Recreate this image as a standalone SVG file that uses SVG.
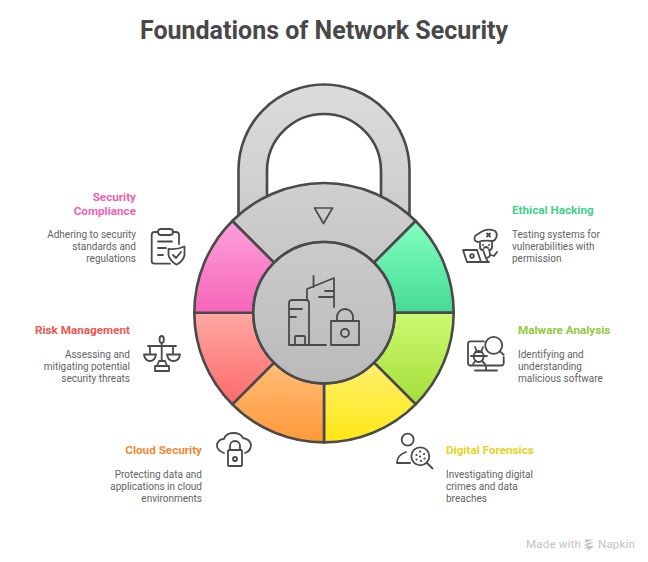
<svg xmlns="http://www.w3.org/2000/svg" width="648" height="562" viewBox="0 0 648 562">
<style>
text{font-family:Roboto,"Liberation Sans",sans-serif}
.title{font-size:25px;font-weight:700;fill:#484848;text-anchor:middle}
.h{font-size:11.700px;font-weight:700}
.d{font-size:10px;fill:#636363}
.e{text-anchor:end}
.s{stroke:#4a4a4a;stroke-width:2.6;stroke-linejoin:round}
.i{fill:none;stroke:#4a4a4a;stroke-width:1.8;stroke-linecap:round;stroke-linejoin:round}
</style>
<defs>
<linearGradient id="gs" x1="0" y1="0" x2="0" y2="1"><stop offset="0" stop-color="#dcdcdc"/><stop offset="1" stop-color="#cccccc"/></linearGradient>
<linearGradient id="gt" x1="0" y1="0" x2="0" y2="1"><stop offset="0" stop-color="#d0d0d0"/><stop offset="1" stop-color="#c6c6c6"/></linearGradient>
<linearGradient id="gc" x1="0" y1="0" x2="0" y2="1"><stop offset="0" stop-color="#cbcbcb"/><stop offset="1" stop-color="#bababa"/></linearGradient>
<linearGradient id="p" x1="0" y1="0" x2="0" y2="1"><stop offset="0" stop-color="#ffa0dd"/><stop offset="1" stop-color="#f565b8"/></linearGradient>
<linearGradient id="g" x1="0" y1="0" x2="0" y2="1"><stop offset="0" stop-color="#82ffc0"/><stop offset="1" stop-color="#45db94"/></linearGradient>
<linearGradient id="l" x1="0" y1="0" x2="0" y2="1"><stop offset="0" stop-color="#cdf971"/><stop offset="1" stop-color="#a5de3a"/></linearGradient>
<linearGradient id="y" x1="0" y1="0" x2="0" y2="1"><stop offset="0" stop-color="#fff06e"/><stop offset="1" stop-color="#ffe714"/></linearGradient>
<linearGradient id="o" x1="0" y1="0" x2="0" y2="1"><stop offset="0" stop-color="#ffbd78"/><stop offset="1" stop-color="#ff9838"/></linearGradient>
<linearGradient id="r" x1="0" y1="0" x2="0" y2="1"><stop offset="0" stop-color="#ffa8a3"/><stop offset="1" stop-color="#ff6a6a"/></linearGradient>
</defs>
<text class="title" x="324" y="39">Foundations of Network Security</text>
<g id="lock">
<path class="s" fill="url(#gs)" d="M238.500 217V170A85.500 85.500 0 0 1 409.500 170V217L381 197V171A57 57 0 0 0 267 171V197Z"/>
<path class="s" fill="url(#gt)" d="M232.300 221A129.700 129.700 0 0 1 415.700 221L374 262.700A70.700 70.700 0 0 0 274 262.700Z"/>
<path class="s" fill="url(#g)" d="M415.700 221A129.700 129.700 0 0 1 453.700 312.700H394.700A70.700 70.700 0 0 0 374 262.700Z"/>
<path class="s" fill="url(#l)" d="M453.700 312.700A129.700 129.700 0 0 1 415.700 404.400L374 362.700A70.700 70.700 0 0 0 394.700 312.700Z"/>
<path class="s" fill="url(#y)" d="M415.700 404.400A129.700 129.700 0 0 1 324 442.400V383.400A70.700 70.700 0 0 0 374 362.700Z"/>
<path class="s" fill="url(#o)" d="M324 442.400A129.700 129.700 0 0 1 232.300 404.400L274 362.700A70.700 70.700 0 0 0 324 383.400Z"/>
<path class="s" fill="url(#r)" d="M232.300 404.400A129.700 129.700 0 0 1 194.300 312.700H253.300A70.700 70.700 0 0 0 274 362.700Z"/>
<path class="s" fill="url(#p)" d="M194.300 312.700A129.700 129.700 0 0 1 232.300 221L274 262.700A70.700 70.700 0 0 0 253.300 312.700Z"/>
<circle class="s" fill="url(#gc)" cx="324" cy="312.700" r="70.700"/>
<path d="M314.500 208H332.500L323.500 223.500Z" fill="none" stroke="#4a4a4a" stroke-width="1.700" stroke-linejoin="round"/>
</g>
<g id="center-icon" class="i">
<path d="M289 345V303Q289 300 292 300H306Q309 300 309 303V345M289 345H326M290 309H302M290 317H296M295 345V337Q295 336 296 336H304Q305 336 305 337V345"/>
<path d="M307 300V289L334 278V307M313.500 276V287M325 291H334M319 297H334"/>
<path d="M331 321H359V345H331ZM337 321V317A8 8 0 0 1 353 317V321"/>
<circle cx="345" cy="333" r="4"/>
</g>
<g id="security-compliance">
<text class="h e" x="136" y="201" fill="#ef5fb3">Security</text>
<text class="h e" x="136" y="215" fill="#ef5fb3">Compliance</text>
<text class="d e" x="136" y="238">Adhering to security</text>
<text class="d e" x="136" y="250">standards and</text>
<text class="d e" x="136" y="262">regulations</text>
<g class="i"><path d="M158 232H154.500Q151.700 232 151.700 235V261Q151.700 263.700 154.500 263.700H170M173 232H176Q179 232 179 235V244"/><rect x="158" y="229" width="15" height="6" rx="3"/><path d="M158 241.500H172M158 248H166M158 255H163M168.500 249Q177 250 184.500 246.500V255Q183.500 261 176.500 264.700Q170 261 168.500 255ZM173 255L176 258L181 252"/></g>
</g>
<g id="risk-management">
<text class="h e" x="130" y="334" fill="#f0564f">Risk Management</text>
<text class="d e" x="130" y="358">Assessing and</text>
<text class="d e" x="130" y="370">mitigating potential</text>
<text class="d e" x="130" y="382">security threats</text>
<g class="i"><path d="M161.700 343V361M148 346H176M150 346V354M173 346V354M144 354.500H156M167 354.500H180M144 354.500Q145 361 150 361Q155 361 156 354.500M167 354.500Q168 361 173.500 361Q179 361 180 354.500M159 361H165L167 366H157ZM155 366H169V371H155Z"/><ellipse cx="161.700" cy="339.500" rx="2.200" ry="3.500"/></g>
</g>
<g id="cloud-security">
<text class="h e" x="202" y="454" fill="#eb8a36">Cloud Security</text>
<text class="d e" x="202" y="478">Protecting data and</text>
<text class="d e" x="202" y="490">applications in cloud</text>
<text class="d e" x="202" y="502">environments</text>
<g class="i"><path d="M224 453Q216 450 217 444Q219 439 224 439Q226 433 233 433Q241 433 243 438Q250 439 251 445Q251 451 245 453"/><rect x="228" y="450" width="14" height="16" rx="1"/><path d="M230 450V446A5 5 0 0 1 240 446V450"/><circle cx="235" cy="459" r="2"/></g>
</g>
<g id="digital-forensics">
<text class="h" x="446" y="454" fill="#e6d21f">Digital Forensics</text>
<text class="d" x="446" y="478">Investigating digital</text>
<text class="d" x="446" y="490">crimes and data</text>
<text class="d" x="446" y="502">breaches</text>
<g class="i"><circle cx="407.700" cy="439.700" r="6"/><path d="M397 463Q397 455 406 452M397 463H410"/><circle cx="420.300" cy="456.300" r="9"/><path d="M427 463L432.500 468.500"/><path stroke-width="2.200" d="M416.500 455h.1M420 451.500h.1M424 454h.1M420 456.500h.1M416.500 459.500h.1M421 461h.1M424.500 458.500h.1"/></g>
</g>
<g id="malware-analysis">
<text class="h" x="518" y="334" fill="#94c93d">Malware Analysis</text>
<text class="d" x="518" y="358">Identifying and</text>
<text class="d" x="518" y="370">understanding</text>
<text class="d" x="518" y="382">malicious software</text>
<g class="i"><path d="M484 341.300H470.500Q468 341.300 468 344V363Q468 365.500 470.500 365.500H501Q503.700 365.500 503.700 363V357M486 366V370M475 370.500H497"/><circle cx="493.700" cy="345.300" r="8.500"/><path d="M500 351.500L503.700 354.700"/><ellipse cx="478.700" cy="356.500" rx="5" ry="5.500"/><path d="M474 356H484M475 347L477 352M483 347L481 352M471 356H474M484 356H487M473 364L475.500 361M485 364L482 361M475.500 352H482"/></g>
</g>
<g id="ethical-hacking">
<text class="h" x="512" y="214" fill="#42cf8c">Ethical Hacking</text>
<text class="d" x="512" y="238">Testing systems for</text>
<text class="d" x="512" y="250">vulnerabilities with</text>
<text class="d" x="512" y="262">permission</text>
<g class="i"><path d="M478 242Q473 241 475 236Q478 234 481 232Q488 228 495 231Q498 234 496 238Q495 241 492 241Q484 240 478 242Z"/><path d="M480 243V247Q480 250 483 250M492 241V247Q492 250 489 250M483 250Q484 253 486 258L489 257Q491 255 489 250M486 258L488 262M491 255L494 256L497 252"/><path d="M463 250H477L481 262H467ZM467 262H489"/><circle cx="472" cy="256" r="1.800"/><path d="M487 233.500L490 236.500M490 233.500L487 236.500M483 245h.1M489 245h.1M484 248Q486 246 488 248"/></g>
</g>
<g id="watermark" fill="#c2c2c2" font-size="11.500">
<text x="526" y="548" letter-spacing=".2">Made with</text>
<path d="M585 539.500H593L586 542.500H594L586 546H594L587 552L589 548.500H584L588 545.500H584L588 542.500H585Z" fill="#c2c2c2"/>
<text x="598" y="548" letter-spacing=".2">Napkin</text>
</g>
</svg>
